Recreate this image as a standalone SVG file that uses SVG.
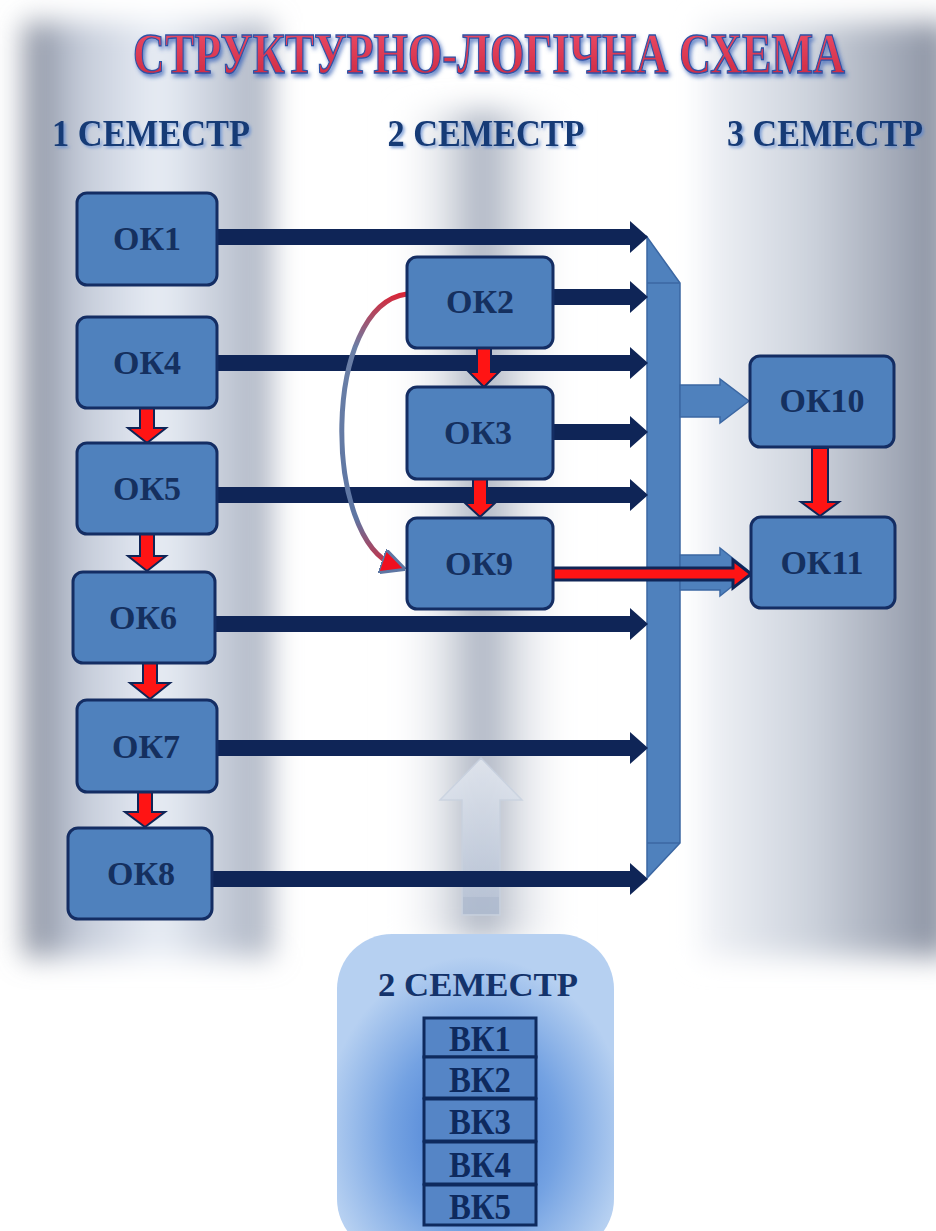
<svg xmlns="http://www.w3.org/2000/svg" width="936" height="1231" viewBox="0 0 936 1231">
<defs>
<style>
.nd{fill:#4f81bd;stroke:#142d63;stroke-width:3}
.lbl{font-family:"Liberation Serif","Times New Roman",serif;font-weight:bold;fill:#15305f;text-anchor:middle;font-size:34px}
.hdr{font-family:"Liberation Serif","Times New Roman",serif;font-weight:bold;fill:#163a76;text-anchor:middle;font-size:33px}
.navy{fill:#0f2557}
.red{fill:#ff1414;stroke:#0f2557;stroke-width:2;stroke-linejoin:miter}
.bus{fill:#4f81bd;stroke:#3b67a3;stroke-width:1.5}
.vk{fill:#5585c6;stroke:#0e2a5e;stroke-width:3}
</style>
<filter id="blur" x="-20%" y="-20%" width="140%" height="140%"><feGaussianBlur stdDeviation="14"/></filter>
<filter id="tsh" filterUnits="userSpaceOnUse" x="0" y="0" width="936" height="200">
<feGaussianBlur in="SourceAlpha" stdDeviation="2" result="b"/><feOffset in="b" dx="2" dy="3" result="o"/>
<feFlood flood-color="#3a63b8" flood-opacity="0.8"/><feComposite operator="in" in2="o"/>
<feMerge><feMergeNode/><feMergeNode in="SourceGraphic"/></feMerge>
</filter>
<filter id="hsh" filterUnits="userSpaceOnUse" x="0" y="0" width="936" height="200">
<feGaussianBlur in="SourceAlpha" stdDeviation="1.5" result="b"/><feOffset in="b" dx="1.5" dy="2" result="o"/>
<feFlood flood-color="#5a86d0" flood-opacity="0.7"/><feComposite operator="in" in2="o"/>
<feMerge><feMergeNode/><feMergeNode in="SourceGraphic"/></feMerge>
</filter>
<linearGradient id="gL" x1="0" y1="0" x2="1" y2="0">
<stop offset="0" stop-color="#7f8696"/><stop offset="0.22" stop-color="#c3cad8"/><stop offset="0.55" stop-color="#e9eef6"/><stop offset="0.85" stop-color="#bfc6d3"/><stop offset="1" stop-color="#aab1bf"/>
</linearGradient>
<linearGradient id="gM" x1="0" y1="0" x2="1" y2="0">
<stop offset="0" stop-color="#ffffff" stop-opacity="0"/><stop offset="0.5" stop-color="#a7afbe"/><stop offset="1" stop-color="#ffffff" stop-opacity="0"/>
</linearGradient>
<linearGradient id="gR" x1="0" y1="0" x2="1" y2="0">
<stop offset="0" stop-color="#f2f4f8"/><stop offset="0.45" stop-color="#ccd2dc"/><stop offset="0.85" stop-color="#9aa1b0"/><stop offset="1" stop-color="#858c9c"/>
</linearGradient>
<linearGradient id="gTitle" x1="0" y1="0" x2="0" y2="1">
<stop offset="0" stop-color="#f0506a"/><stop offset="1" stop-color="#c9263e"/>
</linearGradient>
<linearGradient id="gUp" x1="0" y1="0" x2="0" y2="1">
<stop offset="0" stop-color="#e4e9f1"/><stop offset="1" stop-color="#b4c0d4"/>
</linearGradient>
<linearGradient id="gCurve" gradientUnits="userSpaceOnUse" x1="0" y1="290" x2="0" y2="575">
<stop offset="0" stop-color="#e02030"/><stop offset="0.2" stop-color="#6b7fa6"/><stop offset="0.8" stop-color="#5d76a3"/><stop offset="1" stop-color="#e02030"/>
</linearGradient>
<radialGradient id="gBox" cx="0.5" cy="0.62" r="0.55">
<stop offset="0" stop-color="#3e77d0"/><stop offset="0.55" stop-color="#74a2e2"/><stop offset="1" stop-color="#b6d0f1"/>
</radialGradient>
<marker id="mCurve" viewBox="0 0 10 10" refX="6" refY="5" markerWidth="5" markerHeight="5" orient="auto" markerUnits="strokeWidth">
<path d="M0 0 L10 5 L0 10 Z" fill="#f01020" stroke="#5d76a3" stroke-width="1.2"/>
</marker>
</defs>

<g id="background">
<rect width="936" height="1231" fill="#ffffff"/>
<rect x="24" y="22" width="248" height="935" fill="url(#gL)" filter="url(#blur)"/>
<rect x="390" y="110" width="185" height="830" fill="url(#gM)" filter="url(#blur)"/>
<rect x="700" y="22" width="250" height="935" fill="url(#gR)" filter="url(#blur)"/>
</g>

<g id="title" filter="url(#tsh)">
<text transform="translate(489,73) scale(1,1.36)" x="0" y="0" font-family="Liberation Serif, Times New Roman, serif" font-weight="bold" font-size="42" text-anchor="middle" textLength="712" lengthAdjust="spacingAndGlyphs" fill="url(#gTitle)" stroke="#2f52a6" stroke-width="1">СТРУКТУРНО-ЛОГІЧНА СХЕМА</text>
</g>

<g id="headers" filter="url(#hsh)">
<text class="hdr" transform="translate(151,146) scale(1,1.15)" x="0" y="0" textLength="198" lengthAdjust="spacingAndGlyphs">1 СЕМЕСТР</text>
<text class="hdr" transform="translate(486,146) scale(1,1.15)" x="0" y="0" textLength="197" lengthAdjust="spacingAndGlyphs">2 СЕМЕСТР</text>
<text class="hdr" transform="translate(825,146) scale(1,1.15)" x="0" y="0" textLength="196" lengthAdjust="spacingAndGlyphs">3 СЕМЕСТР</text>
</g>

<g id="bus">
<polygon class="bus" points="647,237 680,283 680,843 647,878"/>
<line x1="647" y1="283" x2="680" y2="283" stroke="#3b67a3" stroke-width="1.5"/>
<line x1="647" y1="843" x2="680" y2="843" stroke="#3b67a3" stroke-width="1.5"/>
<path class="bus" d="M680 385 H720 V379 L749 401 L720 423 V417 H680 Z"/>
<path class="bus" d="M680 555 H720 V548 L750 572 L720 596 V590 H680 Z"/>
</g>

<g id="upArrow" opacity="0.85">
<path d="M462 915 V800 H440 L481 758 L522 800 H500 V915 Z" fill="url(#gUp)" stroke="#c9d2e0" stroke-width="1.5"/>
<rect x="463" y="897" width="36" height="17" fill="#a9b6cc" opacity="0.6"/>
</g>

<g id="connectors">
<path class="navy" d="M217 229 H630 V221 L648 237 L630 253 V245 H217 Z"/>
<path class="navy" d="M553 289 H630 V281 L648 297 L630 313 V305 H553 Z"/>
<path class="navy" d="M217 355 H630 V347 L648 363 L630 379 V371 H217 Z"/>
<path class="navy" d="M553 424 H630 V416 L648 432 L630 448 V440 H553 Z"/>
<path class="navy" d="M217 487 H630 V479 L648 495 L630 511 V503 H217 Z"/>
<path class="navy" d="M215 616 H630 V608 L648 624 L630 640 V632 H215 Z"/>
<path class="navy" d="M217 740 H630 V732 L648 748 L630 764 V756 H217 Z"/>
<path class="navy" d="M212 871 H630 V863 L648 879 L630 895 V887 H212 Z"/>

<path class="red" d="M553 568 H733 V560 L751 574 L733 588 V580 H553 Z" style="stroke-width:3"/>

<path class="red" d="M140 408 V428 H128 L147 443 L166 428 H154 V408 Z"/>
<path class="red" d="M140 534 V556 H128 L147 571 L166 556 H154 V534 Z"/>
<path class="red" d="M143 663 V683 H130 L150 699 L170 683 H157 V663 Z"/>
<path class="red" d="M138 792 V812 H125 L145 827 L165 812 H152 V792 Z"/>
<path class="red" d="M477 348 V372 H469 L484 387 L499 372 H491 V348 Z"/>
<path class="red" d="M473 479 V503 H465 L480 517 L495 503 H487 V479 Z"/>
<path class="red" d="M812 448 V502 H801 L820 516 L839 502 H828 V448 Z"/>

<path d="M407 294 C 322 305, 322 540, 396 566" fill="none" stroke="url(#gCurve)" stroke-width="5" marker-end="url(#mCurve)"/>
</g>

<g id="OK1"><rect class="nd" x="77" y="193" width="140" height="92" rx="10"/><text class="lbl" x="147" y="250">ОК1</text></g>
<g id="OK4"><rect class="nd" x="77" y="317" width="140" height="91" rx="10"/><text class="lbl" x="147" y="374">ОК4</text></g>
<g id="OK5"><rect class="nd" x="77" y="443" width="140" height="91" rx="10"/><text class="lbl" x="147" y="500">ОК5</text></g>
<g id="OK6"><rect class="nd" x="73" y="572" width="142" height="91" rx="10"/><text class="lbl" x="143" y="629">ОК6</text></g>
<g id="OK7"><rect class="nd" x="77" y="700" width="140" height="92" rx="10"/><text class="lbl" x="146" y="758">ОК7</text></g>
<g id="OK8"><rect class="nd" x="68" y="828" width="144" height="91" rx="10"/><text class="lbl" x="141" y="885">ОК8</text></g>
<g id="OK2"><rect class="nd" x="407" y="257" width="146" height="91" rx="10"/><text class="lbl" x="480" y="313">ОК2</text></g>
<g id="OK3"><rect class="nd" x="407" y="387" width="146" height="92" rx="10"/><text class="lbl" x="478" y="444">ОК3</text></g>
<g id="OK9"><rect class="nd" x="407" y="518" width="146" height="91" rx="10"/><text class="lbl" x="479" y="575">ОК9</text></g>
<g id="OK10"><rect class="nd" x="750" y="356" width="144" height="91" rx="10"/><text class="lbl" x="822" y="412">ОК10</text></g>
<g id="OK11"><rect class="nd" x="751" y="517" width="144" height="91" rx="10"/><text class="lbl" x="822" y="574">ОК11</text></g>

<g id="electives">
<rect x="337" y="934" width="277" height="320" rx="55" fill="url(#gBox)"/>
<text class="lbl" x="478" y="996" textLength="200" lengthAdjust="spacingAndGlyphs" style="font-size:33px;fill:#14336b">2 СЕМЕСТР</text>
<g id="VK1"><rect class="vk" x="424" y="1018" width="112" height="39"/><text class="lbl" x="480" y="1051" textLength="62" lengthAdjust="spacingAndGlyphs" style="font-size:35px;fill:#0e2a5e">ВК1</text></g>
<g id="VK2"><rect class="vk" x="424" y="1057" width="112" height="41"/><text class="lbl" x="480" y="1092" textLength="62" lengthAdjust="spacingAndGlyphs" style="font-size:35px;fill:#0e2a5e">ВК2</text></g>
<g id="VK3"><rect class="vk" x="424" y="1099" width="112" height="42"/><text class="lbl" x="480" y="1134" textLength="62" lengthAdjust="spacingAndGlyphs" style="font-size:35px;fill:#0e2a5e">ВК3</text></g>
<g id="VK4"><rect class="vk" x="424" y="1142" width="112" height="42"/><text class="lbl" x="480" y="1177" textLength="62" lengthAdjust="spacingAndGlyphs" style="font-size:35px;fill:#0e2a5e">ВК4</text></g>
<g id="VK5"><rect class="vk" x="424" y="1185" width="112" height="40"/><text class="lbl" x="480" y="1219" textLength="62" lengthAdjust="spacingAndGlyphs" style="font-size:35px;fill:#0e2a5e">ВК5</text></g>
</g>
</svg>
